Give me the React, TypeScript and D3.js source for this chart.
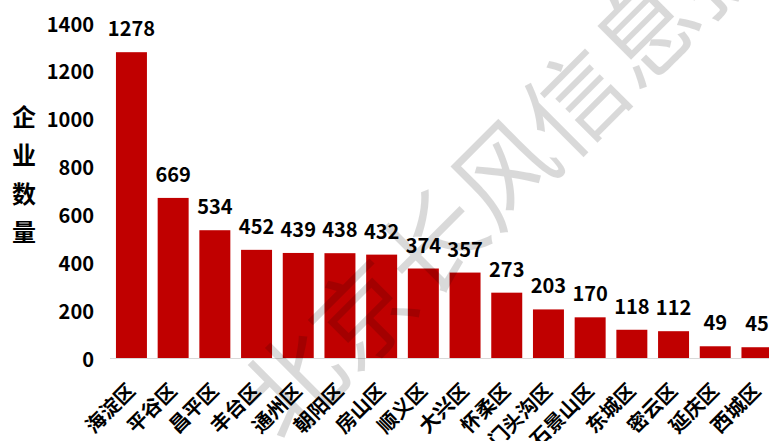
import React from "react";
import * as d3 from "d3";

const categories = ["海淀区", "平谷区", "昌平区", "丰台区", "通州区", "朝阳区", "房山区", "顺义区", "大兴区", "怀柔区", "门头沟区", "石景山区", "东城区", "密云区", "延庆区", "西城区"];
const values = [1278, 669, 534, 452, 439, 438, 432, 374, 357, 273, 203, 170, 118, 112, 49, 45];
const yTicks = [0, 200, 400, 600, 800, 1000, 1200, 1400];
const yTitle = "企业数量";
const watermark = "北京长风信息技术";

const W = 769;
const H = 441;
const FONT = "'Noto Sans CJK SC', 'Open Sans', sans-serif";

export default function App() {
  const x = d3.scaleBand<string>().domain(categories).range([110.6, 777.8]).paddingInner(0.257).paddingOuter(0.1285);
  const y = d3.scaleLinear().domain([0, 1400]).range([358, 23]);
  const bw = x.bandwidth();

  return (
    <svg width={W} height={H} style={{ position: "absolute", left: 0, top: 0, background: "#fff" }} fontFamily={FONT}>
      <line x1={110} x2={W} y1={y(0) + 0.5} y2={y(0) + 0.5} stroke="#d9d9d9" strokeWidth={1} />
      {yTicks.map((t) => (
        <text key={t} x={94} y={y(t)} textAnchor="end" dominantBaseline="central" fontSize={20} fontWeight="bold" fill="#000">
          {t}
        </text>
      ))}
      {yTitle.split("").map((c, i) => (
        <text key={c} x={24} y={115 + i * 38.5} textAnchor="middle" dominantBaseline="central" fontSize={24} fontWeight="bold" fill="#000">
          {c}
        </text>
      ))}
      {categories.map((c, i) => (
        <rect key={c} x={x(c)} y={y(values[i])} width={bw} height={y(0) - y(values[i])} fill="#c00000" />
      ))}
      {categories.map((c, i) => (
        <text key={c} x={(x(c) as number) + bw / 2} y={y(values[i]) - 16} textAnchor="middle" fontSize={20} fontWeight="bold" fill="#000">
          {values[i]}
        </text>
      ))}
      {categories.map((c) => (
        <text
          key={c}
          transform={`translate(${(x(c) as number) + bw / 2 + 5},${392}) rotate(-45)`}
          textAnchor="end"
          fontSize={20}
          fontWeight="bold"
          fill="#000"
        >
          {c}
        </text>
      ))}
      <text
        transform={`translate(${283},${446}) rotate(-45)`}
        fontSize={100}
        fontWeight={400}
        fill="#000"
        fillOpacity={0.15}
      >
        {watermark}
      </text>
    </svg>
  );
}
